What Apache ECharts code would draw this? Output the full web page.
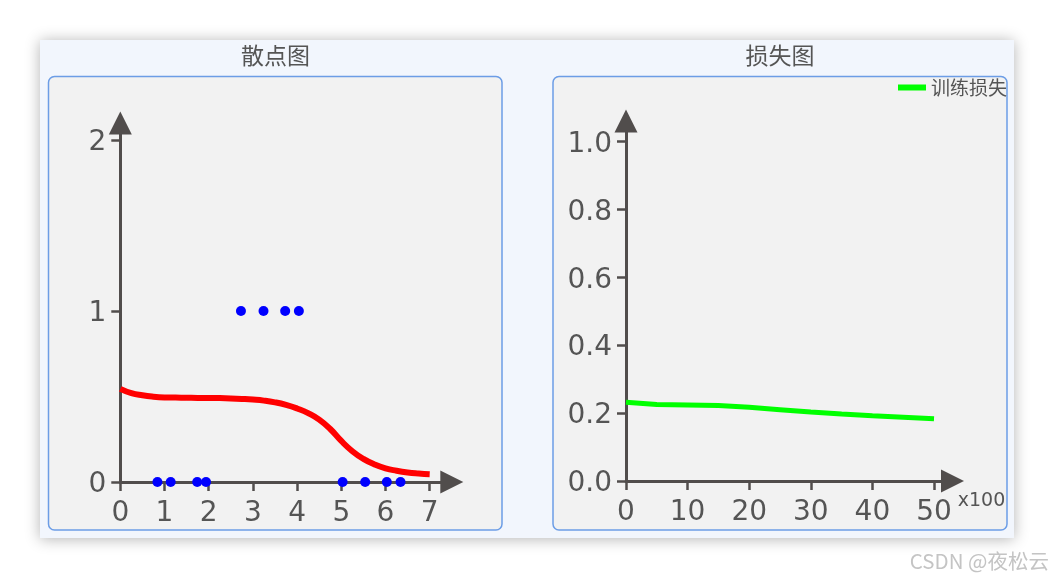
<!DOCTYPE html>
<html>
<head>
<meta charset="utf-8">
<script src="https://cdn.jsdelivr.net/npm/echarts@6/dist/echarts.min.js"></script>
<style>
html, body { margin: 0; padding: 0; background: #ffffff; }
#main { width: 1054px; height: 578px; }
</style>
</head>
<body>
<div id="main"></div>
<script>
// ---- data ----
const scatterX = [0.84, 1.14, 1.74, 1.94, 2.73, 3.24, 3.73, 4.04, 5.03, 5.54, 6.03, 6.34];
const scatterY = [0, 0, 0, 0, 1, 1, 1, 1, 0, 0, 0, 0];

const curveX = [0, 0.25, 0.5, 0.75, 1, 1.25, 1.5, 1.75, 2, 2.25, 2.5, 2.75, 3, 3.25, 3.5, 3.75, 4, 4.25, 4.5, 4.75, 5, 5.25, 5.5, 5.75, 6, 6.25, 6.5, 6.75, 7];
const curveY = [0.545, 0.52, 0.507, 0.499, 0.495, 0.494, 0.493, 0.492, 0.492, 0.491, 0.489, 0.486, 0.482, 0.476, 0.466, 0.451, 0.43, 0.403, 0.365, 0.31, 0.24, 0.18, 0.135, 0.103, 0.08, 0.066, 0.056, 0.05, 0.046];

const lossX = [0, 5, 10, 15, 20, 25, 30, 35, 40, 45, 50];
const lossY = [0.232, 0.225, 0.2235, 0.222, 0.217, 0.21, 0.203, 0.197, 0.192, 0.188, 0.183];

const leftXTicks = [0, 1, 2, 3, 4, 5, 6, 7];
const leftYTicks = [0, 1, 2];
const rightXTicks = [0, 10, 20, 30, 40, 50];
const rightYTicks = [0, 0.2, 0.4, 0.6, 0.8, 1.0];

const titleLeft = '散点图';
const titleRight = '损失图';
const lossName = '训练损失';
const xUnitName = 'x100';
const watermark = 'CSDN @夜松云';

// ---- chart ----
const axisColor = '#514d4c';
const labelColor = '#555555';
const fontFam = 'DejaVu Sans';

function axisCommon(ticks, isX, fmt) {
  const f = fmt || (v => String(v));
  const label = {
    customValues: ticks,
    fontSize: 28,
    color: labelColor,
    fontFamily: fontFam,
    margin: isX ? 18 : 14
  };
  if (isX) {
    label.formatter = f;
  } else {
    label.formatter = v => '{a|' + f(v) + '}';
    label.rich = { a: { fontSize: 28, color: labelColor, fontFamily: fontFam, padding: [6, 0, 0, 0] } };
  }
  return {
    type: 'value',
    splitLine: { show: false },
    axisLine: {
      show: true,
      onZero: false,
      symbol: ['none', 'triangle'],
      symbolSize: [23, 23],
      lineStyle: { color: axisColor, width: 3 }
    },
    axisTick: {
      show: true,
      length: 9,
      customValues: ticks,
      lineStyle: { color: axisColor, width: 2.5 }
    },
    axisLabel: label
  };
}

const chart = echarts.init(document.getElementById('main'), null, { renderer: 'canvas' });

const option = {
  backgroundColor: '#ffffff',
  animation: false,
  graphic: [
    {
      type: 'rect', z: -10, silent: true,
      shape: { x: 40, y: 40, width: 974, height: 498 },
      style: { fill: '#f2f6fd', shadowBlur: 14, shadowColor: 'rgba(0,0,0,0.3)', shadowOffsetY: 1 }
    },
    {
      type: 'rect', z: -9, silent: true,
      shape: { x: 48.5, y: 76.5, width: 453.5, height: 453.5, r: 6 },
      style: { fill: '#f2f2f2', stroke: '#6c9de6', lineWidth: 1.5 }
    },
    {
      type: 'rect', z: -9, silent: true,
      shape: { x: 553, y: 76.5, width: 454, height: 453.5, r: 6 },
      style: { fill: '#f2f2f2', stroke: '#6c9de6', lineWidth: 1.5 }
    },
    {
      type: 'text', silent: true,
      x: 275.5, y: 55.5,
      style: { text: titleLeft, fill: '#555555', font: '23px "Noto Sans CJK SC"', textAlign: 'center', textVerticalAlign: 'middle' }
    },
    {
      type: 'text', silent: true,
      x: 780, y: 55.5,
      style: { text: titleRight, fill: '#555555', font: '23px "Noto Sans CJK SC"', textAlign: 'center', textVerticalAlign: 'middle' }
    },
    {
      type: 'text', silent: true,
      x: 1049, y: 561,
      style: { text: watermark, fill: '#c4c4c4', font: '20.5px "Noto Sans CJK SC"', textAlign: 'right', textVerticalAlign: 'middle' }
    }
  ],
  legend: {
    data: [lossName],
    right: 42,
    top: 73,
    icon: 'rect',
    itemWidth: 28,
    itemHeight: 6,
    itemGap: 4,
    textStyle: { fontSize: 19, color: '#555555', fontFamily: 'Noto Sans CJK SC' }
  },
  grid: [
    { left: 120.3, top: 123, width: 331.5, height: 359, containLabel: false },
    { left: 626, top: 121, width: 326.5, height: 360, containLabel: false }
  ],
  xAxis: [
    Object.assign(axisCommon(leftXTicks, true), { gridIndex: 0, min: 0, max: 7.5 }),
    Object.assign(axisCommon(rightXTicks, true), {
      gridIndex: 1, min: 0, max: 53,
      name: xUnitName, nameLocation: 'end', nameGap: 3,
      nameTextStyle: { fontSize: 19, color: labelColor, fontFamily: fontFam, align: 'left', verticalAlign: 'top', padding: [11, 0, 0, 0] }
    })
  ],
  yAxis: [
    Object.assign(axisCommon(leftYTicks, false), { gridIndex: 0, min: 0, max: 2.1 }),
    Object.assign(axisCommon(rightYTicks, false, v => v.toFixed(1)), { gridIndex: 1, min: 0, max: 1.06 })
  ],
  series: [
    {
      type: 'line', xAxisIndex: 0, yAxisIndex: 0,
      data: curveX.map((x, i) => [x, curveY[i]]),
      smooth: true, showSymbol: false,
      lineStyle: { color: '#ff0000', width: 6 },
      itemStyle: { color: '#ff0000' }
    },
    {
      type: 'scatter', xAxisIndex: 0, yAxisIndex: 0,
      data: scatterX.map((x, i) => [x, scatterY[i]]),
      symbolSize: 10,
      itemStyle: { color: '#0000ff', opacity: 1 }
    },
    {
      name: lossName,
      type: 'line', xAxisIndex: 1, yAxisIndex: 1,
      data: lossX.map((x, i) => [x, lossY[i]]),
      showSymbol: false,
      lineStyle: { color: '#00ff00', width: 5 },
      itemStyle: { color: '#00ff00' }
    }
  ]
};

chart.setOption(option);
</script>
</body>
</html>
